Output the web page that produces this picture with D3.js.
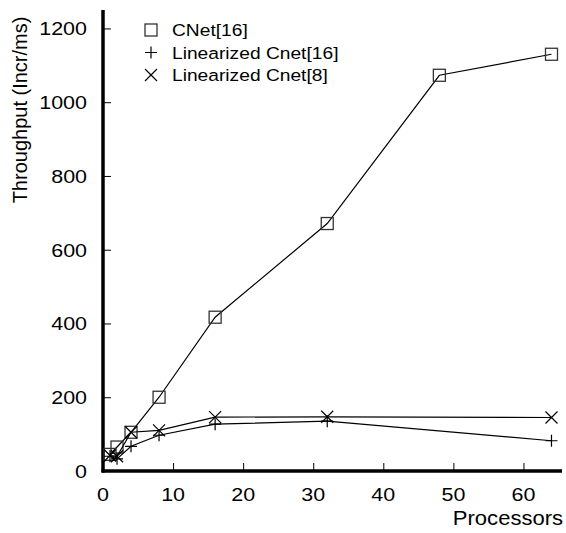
<!DOCTYPE html>
<html>
<head>
<meta charset="utf-8">
<script src="https://cdn.jsdelivr.net/npm/d3@7"></script>
<style>
  html, body { margin: 0; padding: 0; background: #fff; }
  svg { display: block; font-family: "Liberation Sans", Arial, sans-serif; }
</style>
</head>
<body>
<svg id="chart" width="566" height="533"></svg>
<script>
// Processor counts and measured throughput per counting network
const processors = [1, 2, 4, 8, 16, 32, 48, 64];
const processorsLin = [1, 2, 4, 8, 16, 32, 64];
const cnet16 = [45, 65, 105, 200, 417, 671, 1073, 1130];
const linCnet16 = [40, 33, 67, 97, 127, 135, 82];
const linCnet8 = [42, 40, 105, 110, 146, 147, 145];

const xTicks = [0, 10, 20, 30, 40, 50, 60];
const yTicks = [0, 200, 400, 600, 800, 1000, 1200];
const seriesNames = ["CNet[16]", "Linearized Cnet[16]", "Linearized Cnet[8]"];
const markerKinds = ["square", "plus", "cross"];

const svg = d3.select("#chart");
const margin = { left: 103, right: 4, top: 10, bottom: 62 };
const W = 566, H = 533;
const stretch = 1.13; // glyphs are a little wide in this figure

const x = d3.scaleLinear().domain([0, 65.5]).range([margin.left, W - margin.right]);
const y = d3.scaleLinear().domain([0, 1250]).range([H - margin.bottom, margin.top]);

// axes: ticks point inward
const xAxis = d3.axisTop(x).tickValues(xTicks).tickSize(8).tickFormat(d3.format("d"));
const yAxis = d3.axisRight(y).tickValues(yTicks).tickSize(8).tickFormat(d3.format("d"));

const gx = svg.append("g").attr("transform", `translate(0,${y(0)})`).call(xAxis);
gx.select(".domain").remove();
gx.selectAll(".tick line").attr("stroke", "#000").attr("stroke-width", 1);
gx.selectAll(".tick text").remove();

const gy = svg.append("g").attr("transform", `translate(${x(0)},0)`).call(yAxis);
gy.select(".domain").remove();
gy.selectAll(".tick line").attr("stroke", "#000").attr("stroke-width", 1);
gy.selectAll(".tick text").remove();

// thick axis lines
svg.append("line").attr("x1", x(0) - 1.5).attr("x2", x(65.5)).attr("y1", y(0)).attr("y2", y(0))
  .attr("stroke", "#000").attr("stroke-width", 3.5);
svg.append("line").attr("x1", x(0)).attr("x2", x(0)).attr("y1", y(0) + 1.5).attr("y2", y(1250))
  .attr("stroke", "#000").attr("stroke-width", 3.5);

function label(g, tx, ty, str, size, anchor) {
  return g.append("text")
    .attr("transform", `translate(${tx},${ty}) scale(${stretch},1)`)
    .attr("text-anchor", anchor).attr("font-size", size).text(str);
}

// tick labels
const gxl = svg.append("g");
xTicks.forEach(d => label(gxl, x(d), y(0) + 30, d, 19, "middle"));
const gyl = svg.append("g");
yTicks.forEach(d => label(gyl, x(0) - 16, y(d) + 7, d, 19, "end"));

// axis titles
label(svg, W - 3, 525, "Processors", 19.5, "end");
svg.append("text").attr("transform", "translate(27,110) rotate(-90)")
  .attr("text-anchor", "middle").attr("font-size", 20).text("Throughput (Incr/ms)");

// marker shapes
function drawMarker(g, kind, cx, cy) {
  const s = 6;
  if (kind === "square") {
    g.append("rect").attr("x", cx - s).attr("y", cy - s).attr("width", 2 * s).attr("height", 2 * s)
      .attr("fill", "none").attr("stroke", "#333").attr("stroke-width", 1.3);
  } else if (kind === "plus") {
    g.append("path").attr("d", `M${cx - s},${cy}H${cx + s}M${cx},${cy - s}V${cy + s}`)
      .attr("stroke", "#000").attr("stroke-width", 1.2).attr("fill", "none");
  } else {
    g.append("path").attr("d", `M${cx - s},${cy - s}L${cx + s},${cy + s}M${cx - s},${cy + s}L${cx + s},${cy - s}`)
      .attr("stroke", "#000").attr("stroke-width", 1.2).attr("fill", "none");
  }
}

const series = [
  { xs: processors, ys: cnet16 },
  { xs: processorsLin, ys: linCnet16 },
  { xs: processorsLin, ys: linCnet8 }
];

const line = d3.line().x(d => x(d[0])).y(d => y(d[1]));
series.forEach((s, i) => {
  const pts = s.xs.map((v, j) => [v, s.ys[j]]);
  const g = svg.append("g");
  g.append("path").attr("d", line(pts)).attr("fill", "none")
    .attr("stroke", "#000").attr("stroke-width", 1.2);
  pts.forEach(p => drawMarker(g, markerKinds[i], x(p[0]), y(p[1])));
});

// legend
const legend = svg.append("g");
seriesNames.forEach((name, i) => {
  const ly = 30 + i * 22.5;
  drawMarker(legend, markerKinds[i], 151, ly);
  label(legend, 172, ly + 6, name, 17, "start");
});
</script>
</body>
</html>
